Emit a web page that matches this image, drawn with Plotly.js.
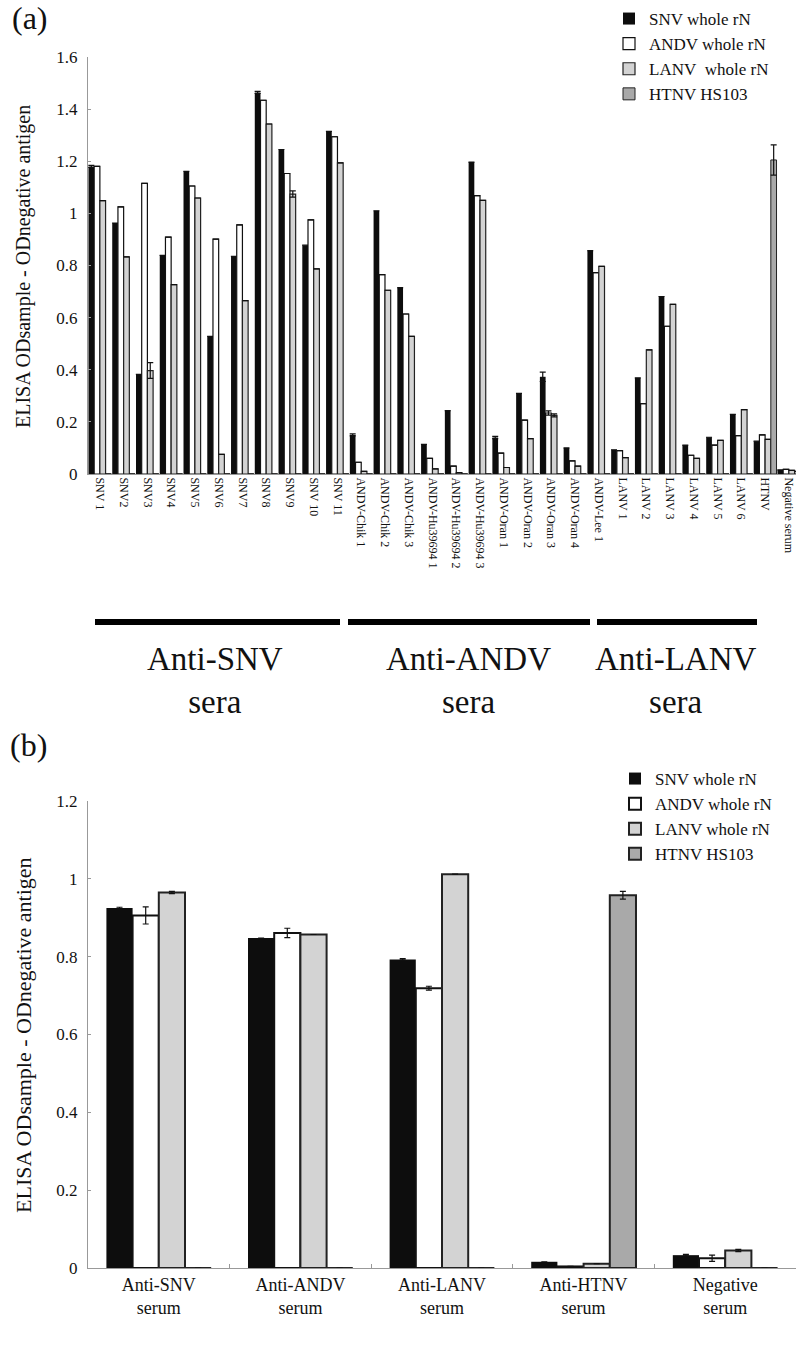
<!DOCTYPE html>
<html>
<head>
<meta charset="utf-8">
<script src="https://cdn.plot.ly/plotly-3.0.1.min.js"></script>
<style>
html,body{margin:0;padding:0;background:#fff;}
#a{width:796px;height:720px;}
#b{width:796px;height:628px;}
</style>
</head>
<body>
<div id="a"></div>
<div id="b"></div>
<script>
// ---- Panel (a) data ----
const seraA = ["SNV 1","SNV2","SNV3","SNV4","SNV5","SNV6","SNV7","SNV8","SNV9","SNV 10","SNV 11",
  "ANDV-Chik 1","ANDV-Chik 2","ANDV-Chik 3","ANDV-Hu39694 1","ANDV-Hu39694 2","ANDV-Hu39694 3",
  "ANDV-Oran 1","ANDV-Oran 2","ANDV-Oran 3","ANDV-Oran 4","ANDV-Lee 1",
  "LANV 1","LANV 2","LANV 3","LANV 4","LANV 5","LANV 6","HTNV","Negative serum"];
const snvA  = [1.18,0.963,0.382,0.839,1.161,0.528,0.835,1.464,1.245,0.878,1.315,
  0.150,1.010,0.715,0.114,0.243,1.197,0.140,0.309,0.373,0.100,0.857,
  0.093,0.369,0.681,0.111,0.141,0.229,0.126,0.016];
const andvA = [1.18,1.025,1.115,0.909,1.105,0.901,0.956,1.434,1.153,0.975,1.294,
  0.045,0.765,0.614,0.060,0.030,1.068,0.080,0.207,0.234,0.050,0.773,
  0.090,0.270,0.567,0.072,0.111,0.147,0.150,0.018];
const lanvA = [1.049,0.833,0.397,0.727,1.059,0.075,0.665,1.343,1.074,0.787,1.194,
  0.010,0.705,0.528,0.020,0.005,1.050,0.025,0.136,0.225,0.030,0.797,
  0.063,0.476,0.651,0.060,0.129,0.247,0.133,0.014];
const htnvA = [0,0,0,0,0,0,0,0,0,0,0,0,0,0,0,0,0,0,0,0,0,0,0,0,0,0,0,0,1.205,0.010];
const snvErrA  = [0.004,0,0,0,0,0,0,0.004,0,0,0,0.004,0,0,0,0,0,0.004,0,0.018,0,0,0,0,0,0,0,0,0,0];
const andvErrA = [0,0,0,0,0,0,0,0,0,0,0,0,0,0,0,0,0,0,0,0.008,0,0,0,0,0,0,0,0,0,0];
const lanvErrA = [0,0,0.03,0,0,0,0,0,0.012,0,0,0,0,0,0,0,0,0,0,0.006,0,0,0,0,0,0,0,0,0,0];
const htnvErrA = [0,0,0,0,0,0,0,0,0,0,0,0,0,0,0,0,0,0,0,0,0,0,0,0,0,0,0,0,0.058,0];

// ---- Panel (b) data ----
const seraB = ["Anti-SNV<br>serum","Anti-ANDV<br>serum","Anti-LANV<br>serum","Anti-HTNV<br>serum","Negative<br>serum"];
const snvB  = [0.925,0.848,0.793,0.016,0.033];
const andvB = [0.906,0.861,0.719,0.004,0.025];
const lanvB = [0.965,0.857,1.012,0.011,0.045];
const htnvB = [0,0,0,0.958,0];
const snvErrB  = [0.002,0,0.002,0,0.002];
const andvErrB = [0.022,0.012,0.005,0,0.008];
const lanvErrB = [0.003,0,0,0,0.003];
const htnvErrB = [0,0,0,0.01,0];

const seriesNames = ["SNV whole rN","ANDV whole rN","LANV\u00a0 whole rN","HTNV HS103"];
const seriesNamesB = ["SNV whole rN","ANDV whole rN","LANV whole rN","HTNV HS103"];
const yTitle = "ELISA ODsample - ODnegative antigen";

const FONT = "'Liberation Serif', 'Times New Roman', Times, serif";
const fills = ["#0d0d0d","#ffffff","#d3d3d3","#a9a9a9"];
const lines = ["#0d0d0d","#111111","#222222","#222222"];

function mk(x, y, err, i, name, lw){
  return {type:"bar", x:x, y:y, name:name,
    marker:{color:fills[i], line:{color:lines[i], width: i===0?0:lw}},
    error_y:{type:"data", array:err, visible:true, color:"#111", thickness:1.2, width:3},
    hoverinfo:"x+y"};
}

const tracesA = [
  mk(seraA, snvA, snvErrA, 0, seriesNames[0], 1.2),
  mk(seraA, andvA, andvErrA, 1, seriesNames[1], 1.2),
  mk(seraA, lanvA, lanvErrA, 2, seriesNames[2], 1.2),
  mk(seraA, htnvA, htnvErrA, 3, seriesNames[3], 1.0)
];

// pixel helpers for panel a (plot area x 88..796, y 57..474)
const pxA = p => (p-88)/708;
const pyA = p => (474-p)/417;

const layoutA = {
  width:796, height:720,
  margin:{l:88, r:0, t:57, b:246},
  paper_bgcolor:"#fff", plot_bgcolor:"#fff",
  barmode:"group", bargap:0.04, bargroupgap:0,
  font:{family:FONT, color:"#111"},
  showlegend:true,
  legend:{x:pxA(609), y:pyA(1), xanchor:"left", yanchor:"top", bgcolor:"rgba(0,0,0,0)",
    font:{family:FONT, size:17, color:"#111"}, tracegroupgap:0},
  xaxis:{type:"category", range:[-0.5,29.3], showline:true, linecolor:"#999", linewidth:1,
    ticks:"", tickangle:90, tickfont:{family:FONT, size:12, color:"#111"}, showgrid:false, zeroline:false},
  yaxis:{range:[0,1.6], tickvals:[0,0.2,0.4,0.6,0.8,1,1.2,1.4,1.6], showline:true, linecolor:"#999",
    ticks:"inside", ticklen:3, tickcolor:"#999", showgrid:false, zeroline:false,
    tickfont:{family:FONT, size:17, color:"#111"}, ticklabelstandoff:6},
  shapes:[
    {type:"line", xref:"paper", yref:"paper", x0:pxA(95), x1:pxA(340), y0:pyA(622), y1:pyA(622), line:{color:"#000", width:6}},
    {type:"line", xref:"paper", yref:"paper", x0:pxA(348), x1:pxA(590), y0:pyA(622), y1:pyA(622), line:{color:"#000", width:6}},
    {type:"line", xref:"paper", yref:"paper", x0:pxA(597), x1:pxA(757), y0:pyA(622), y1:pyA(622), line:{color:"#000", width:6}}
  ],
  annotations:[
    {text:yTitle, textangle:-90, xref:"paper", yref:"paper", x:pxA(23), y:pyA(267), xanchor:"center", yanchor:"middle", showarrow:false, font:{family:FONT, size:20, color:"#111"}},
    {text:"(a)", xref:"paper", yref:"paper", x:pxA(10), y:pyA(18), xanchor:"left", yanchor:"middle", showarrow:false, font:{family:FONT, size:32, color:"#111"}},
    {text:"Anti-SNV<br>sera", xref:"paper", yref:"paper", x:pxA(215), y:pyA(680), xanchor:"center", yanchor:"middle", showarrow:false, font:{family:FONT, size:33, color:"#111"}},
    {text:"Anti-ANDV<br>sera", xref:"paper", yref:"paper", x:pxA(468), y:pyA(680), xanchor:"center", yanchor:"middle", showarrow:false, font:{family:FONT, size:33, color:"#111"}},
    {text:"Anti-LANV<br>sera", xref:"paper", yref:"paper", x:pxA(675), y:pyA(680), xanchor:"center", yanchor:"middle", showarrow:false, font:{family:FONT, size:33, color:"#111"}}
  ]
};

const tracesB = [
  mk(seraB, snvB, snvErrB, 0, seriesNamesB[0], 2),
  mk(seraB, andvB, andvErrB, 1, seriesNamesB[1], 2),
  mk(seraB, lanvB, lanvErrB, 2, seriesNamesB[2], 2),
  mk(seraB, htnvB, htnvErrB, 3, seriesNamesB[3], 2)
];

// panel b plot area: x 88..796, y 81..548 within div (abs 801..1268)
const pxB = p => (p-88)/708;
const pyB = p => (548-p)/467;

const layoutB = {
  width:796, height:628,
  margin:{l:88, r:0, t:81, b:80},
  paper_bgcolor:"#fff", plot_bgcolor:"#fff",
  barmode:"group", bargap:0.26, bargroupgap:0,
  font:{family:FONT, color:"#111"},
  showlegend:true,
  legend:{x:pxB(615), y:pyB(41), xanchor:"left", yanchor:"top", bgcolor:"rgba(0,0,0,0)",
    font:{family:FONT, size:17, color:"#111"}, tracegroupgap:0},
  xaxis:{type:"category", range:[-0.5,4.5], showline:true, linecolor:"#999", linewidth:1,
    ticks:"inside", tickson:"boundaries", ticklen:4, tickcolor:"#999",
    tickfont:{family:FONT, size:18, color:"#111"}, showgrid:false, zeroline:false},
  yaxis:{range:[0,1.2], tickvals:[0,0.2,0.4,0.6,0.8,1,1.2], showline:true, linecolor:"#999",
    ticks:"inside", ticklen:3, tickcolor:"#999", showgrid:false, zeroline:false,
    tickfont:{family:FONT, size:17, color:"#111"}, ticklabelstandoff:6},
  annotations:[
    {text:yTitle, textangle:-90, xref:"paper", yref:"paper", x:pxB(23), y:pyB(1035-720), xanchor:"center", yanchor:"middle", showarrow:false, font:{family:FONT, size:22, color:"#111"}},
    {text:"(b)", xref:"paper", yref:"paper", x:pxB(8), y:pyB(25), xanchor:"left", yanchor:"middle", showarrow:false, font:{family:FONT, size:32, color:"#111"}}
  ]
};

Plotly.newPlot("a", tracesA, layoutA, {staticPlot:true});
Plotly.newPlot("b", tracesB, layoutB, {staticPlot:true});
</script>
</body>
</html>
